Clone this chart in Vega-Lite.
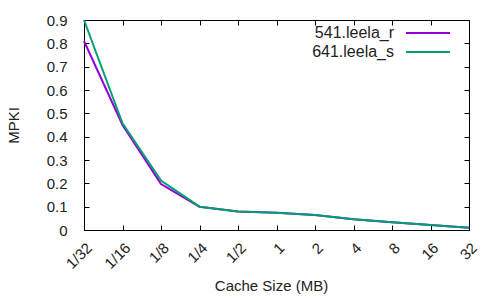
{
  "$schema": "https://vega.github.io/schema/vega-lite/v6.json",
  "autosize": "none",
  "width": 385,
  "height": 210,
  "padding": {"left": 84, "top": 20, "right": 31, "bottom": 70},
  "config": {
    "font": "Liberation Sans",
    "view": {"stroke": "black", "strokeWidth": 1},
    "axis": {
      "grid": false,
      "domainColor": "black",
      "tickColor": "black",
      "labelColor": "#222",
      "titleColor": "#222",
      "labelFont": "Liberation Sans",
      "titleFont": "Liberation Sans",
      "labelFontSize": 15,
      "titleFontSize": 15,
      "titleFontWeight": "normal"
    },
    "legend": {
      "title": null,
      "orient": "none",
      "padding": 0,
      "symbolType": "stroke",
      "symbolSize": 1936,
      "symbolStrokeWidth": 2,
      "labelFont": "Liberation Sans",
      "labelFontSize": 16,
      "labelColor": "#222",
      "labelAlign": "right",
      "labelOffset": -57
    }
  },
  "data": {"values": [
    {"size": "1/32", "bench": "541.leela_r", "mpki": 0.81},
    {"size": "1/16", "bench": "541.leela_r", "mpki": 0.45},
    {"size": "1/8", "bench": "541.leela_r", "mpki": 0.197},
    {"size": "1/4", "bench": "541.leela_r", "mpki": 0.10},
    {"size": "1/2", "bench": "541.leela_r", "mpki": 0.079},
    {"size": "1", "bench": "541.leela_r", "mpki": 0.074},
    {"size": "2", "bench": "541.leela_r", "mpki": 0.064},
    {"size": "4", "bench": "541.leela_r", "mpki": 0.046},
    {"size": "8", "bench": "541.leela_r", "mpki": 0.033},
    {"size": "16", "bench": "541.leela_r", "mpki": 0.021},
    {"size": "32", "bench": "541.leela_r", "mpki": 0.01},
    {"size": "1/32", "bench": "641.leela_s", "mpki": 0.90},
    {"size": "1/16", "bench": "641.leela_s", "mpki": 0.457},
    {"size": "1/8", "bench": "641.leela_s", "mpki": 0.212},
    {"size": "1/4", "bench": "641.leela_s", "mpki": 0.10},
    {"size": "1/2", "bench": "641.leela_s", "mpki": 0.079},
    {"size": "1", "bench": "641.leela_s", "mpki": 0.074},
    {"size": "2", "bench": "641.leela_s", "mpki": 0.064},
    {"size": "4", "bench": "641.leela_s", "mpki": 0.046},
    {"size": "8", "bench": "641.leela_s", "mpki": 0.033},
    {"size": "16", "bench": "641.leela_s", "mpki": 0.021},
    {"size": "32", "bench": "641.leela_s", "mpki": 0.01}
  ]},
  "layer": [
    {
      "transform": [{"filter": "datum.bench === '541.leela_r'"}],
      "mark": {"type": "line", "strokeWidth": 2},
      "encoding": {
        "x": {
          "field": "size", "type": "nominal",
          "sort": ["1/32", "1/16", "1/8", "1/4", "1/2", "1", "2", "4", "8", "16", "32"],
          "scale": {"type": "point", "padding": 0},
          "axis": {"orient": "bottom", "title": "Cache Size (MB)", "labelAngle": -45, "labelAlign": "right", "labelBaseline": "top", "tickSize": -5, "labelPadding": 15, "titlePadding": 7, "titleX": 187}
        },
        "y": {
          "field": "mpki", "type": "quantitative",
          "scale": {"domain": [0, 0.9], "nice": false, "zero": true},
          "axis": {"orient": "left", "title": "MPKI", "values": [0, 0.1, 0.2, 0.3, 0.4, 0.5, 0.6, 0.7, 0.8, 0.9], "format": ".1~f", "tickSize": -5, "labelPadding": 22, "titlePadding": 25}
        },
        "color": {
          "field": "bench", "type": "nominal",
          "scale": {"domain": ["541.leela_r"], "range": ["#9400D3"]},
          "legend": {"legendX": 321, "legendY": -10}
        }
      }
    },
    {
      "transform": [{"filter": "datum.bench === '641.leela_s'"}],
      "mark": {"type": "line", "strokeWidth": 2},
      "encoding": {
        "x": {
          "field": "size", "type": "nominal",
          "sort": ["1/32", "1/16", "1/8", "1/4", "1/2", "1", "2", "4", "8", "16", "32"],
          "scale": {"type": "point", "padding": 0},
          "axis": {"orient": "top", "title": null, "labels": false, "tickSize": -5}
        },
        "y": {
          "field": "mpki", "type": "quantitative",
          "scale": {"domain": [0, 0.9], "nice": false, "zero": true},
          "axis": {"orient": "right", "title": null, "labels": false, "values": [0, 0.1, 0.2, 0.3, 0.4, 0.5, 0.6, 0.7, 0.8, 0.9], "tickSize": -5}
        },
        "stroke": {
          "field": "bench", "type": "nominal",
          "scale": {"domain": ["641.leela_s"], "range": ["#009E73"]},
          "legend": {"legendX": 321, "legendY": 9}
        }
      }
    }
  ],
  "resolve": {"axis": {"x": "independent", "y": "independent"}, "scale": {"color": "independent", "stroke": "independent"}}
}
